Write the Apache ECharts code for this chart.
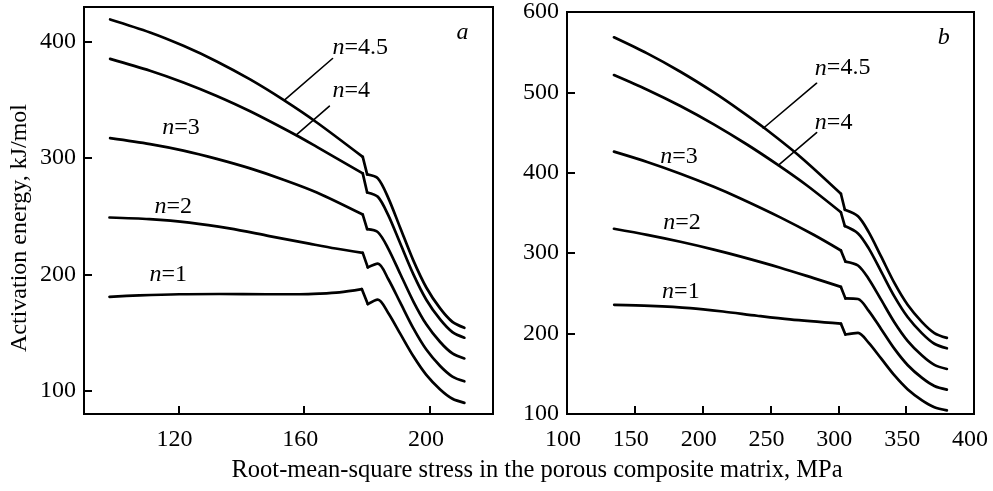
<!DOCTYPE html>
<html>
<head>
<meta charset="utf-8">
<script src="https://cdn.jsdelivr.net/npm/echarts@6/dist/echarts.min.js"></script>
<style>
html, body { margin: 0; padding: 0; background: #fff; }
#chart { width: 993px; height: 491px; }
</style>
</head>
<body>
<div id="chart"></div>
<script>
// panel a: [stress MPa, activation energy kJ/mol]
var a45 = [[98.3,419.3],[111.0,408.1],[121.6,396.6],[132.2,383.2],[142.8,367.7],[153.4,350.1],[164.0,330.7],[178.6,301.1],[180.0,286.0],[183.4,282.6],[186.7,265.9],[190.5,240.2],[194.7,211.9],[198.8,188.8],[203.2,170.8],[207.1,159.2],[210.9,154.1]];
var a4 = [[98.3,385.4],[111.0,375.2],[121.6,365.1],[132.2,353.5],[142.8,340.3],[157.6,319.5],[164.0,309.7],[178.6,286.9],[180.0,270.5],[183.4,266.8],[186.7,251.0],[190.5,226.8],[194.7,200.1],[198.8,178.3],[203.2,161.3],[207.1,150.4],[210.9,145.6]];
var a3 = [[98.3,317.2],[111.0,312.1],[121.6,306.5],[132.2,299.4],[142.8,291.2],[153.4,281.5],[164.0,270.5],[178.6,251.5],[180.0,239.0],[183.4,236.4],[186.7,222.3],[190.5,200.6],[194.7,176.7],[198.8,157.1],[203.2,141.9],[207.1,132.1],[210.9,127.8]];
var a2 = [[98.1,249.0],[110.8,247.6],[123.5,244.6],[136.2,239.6],[148.9,233.0],[161.6,226.5],[170.0,222.3],[178.6,218.6],[180.2,206.1],[183.4,209.3],[186.7,196.1],[190.5,175.9],[194.7,153.6],[198.8,135.4],[203.2,121.3],[207.1,112.2],[210.9,108.1]];
var a1 = [[98.1,180.8],[107.6,182.0],[120.3,183.0],[133.0,183.2],[148.0,183.0],[158.5,183.0],[164.8,183.5],[171.2,184.6],[178.3,187.4],[180.2,174.5],[183.4,178.4],[186.7,166.9],[190.5,149.1],[194.7,129.6],[198.8,113.6],[203.2,101.1],[207.1,93.1],[210.9,89.6]];
// index of the point where each curve steps down
var aKinks = [7, 7, 7, 7, 8];

// panel b
var b45 = [[134.6,568.5],[159.1,548.5],[183.6,525.7],[208.2,500.0],[227.5,477.7],[245.0,456.3],[271.9,420.0],[301.9,373.9],[304.8,354.0],[314.5,345.9],[322.4,326.2],[331.5,296.0],[341.4,262.7],[351.2,235.5],[361.7,214.3],[370.8,200.7],[380.0,194.7]];
var b4 = [[134.6,521.6],[159.1,503.4],[183.6,483.1],[208.2,460.3],[232.7,435.2],[256.0,409.2],[276.9,384.2],[301.9,350.9],[304.8,333.7],[314.5,324.6],[322.4,306.0],[331.5,277.4],[341.4,246.0],[351.2,220.3],[361.7,200.3],[370.8,187.4],[380.0,181.7]];
var b3 = [[134.6,426.3],[159.1,413.5],[183.6,398.9],[208.2,382.6],[227.5,368.4],[257.2,344.6],[281.8,322.9],[301.9,303.4],[305.2,289.6],[314.5,284.7],[322.4,268.0],[331.5,242.2],[341.4,213.9],[351.2,190.7],[361.7,172.7],[370.8,161.1],[380.0,156.0]];
var b2 = [[134.6,330.4],[159.1,322.8],[183.6,314.2],[208.2,304.5],[227.5,296.1],[257.2,282.0],[281.8,269.0],[301.9,258.1],[305.2,243.8],[314.5,243.0],[322.4,228.3],[331.5,205.8],[341.4,181.0],[351.2,160.7],[361.7,144.9],[370.8,134.8],[380.0,130.3]];
var b1 = [[134.8,235.7],[161.3,234.4],[190.7,231.7],[215.0,227.5],[240.1,222.2],[264.3,217.6],[301.9,212.4],[305.2,198.9],[314.5,200.9],[322.4,188.4],[331.5,169.1],[341.4,147.9],[351.2,130.5],[361.7,117.0],[370.8,108.4],[380.0,104.5]];
var bKinks = [7, 7, 7, 7, 6];

// leader lines from labels to curves
var aLead45 = [[169.0,385.7],[153.7,349.9]];
var aLead4 = [[168.0,344.7],[157.4,319.8]];
var bLead45 = [[284.0,511.4],[244.7,455.4]];
var bLead4 = [[284.0,450.1],[255.7,409.2]];

var aTicksX = [120, 160, 200];
var aTicksY = [100, 200, 300, 400];

// label text, x, y (data coords, left edge / middle)
var aLabels = [['{i|n}=4.5',169.0,395.4],['{i|n}=4',169.0,357.9],['{i|n}=3',114.9,325.8],['{i|n}=2',112.4,258.2],['{i|n}=1',110.8,199.4],['{i|a}',208.4,407.5]];
var bLabels = [['{i|n}=4.5',282.7,530.1],['{i|n}=4',282.7,462.7],['{i|n}=3',168.7,419.9],['{i|n}=2',170.9,337.7],['{i|n}=1',170.1,251.9],['{i|b}',373.3,568.1]];

var FONT = '"Liberation Serif", "Times New Roman", serif';

var chart = echarts.init(document.getElementById('chart'));

function xAx(grid, min, max, interval, custom) {
  var ax = {
    type: 'value', gridIndex: grid, min: min, max: max,
    axisLine: { lineStyle: { color: '#000', width: 2 } },
    axisTick: { inside: true, length: 8, lineStyle: { color: '#000', width: 2 } },
    axisLabel: { color: '#000', fontSize: 24, fontFamily: FONT, margin: 14, padding: [0, 8, 0, 0] },
    splitLine: { show: false }
  };
  if (interval) ax.interval = interval;
  if (custom) { ax.axisTick.customValues = custom; ax.axisLabel.customValues = custom; }
  return ax;
}
function yAx(grid, min, max, interval, custom) {
  var ax = {
    type: 'value', gridIndex: grid, min: min, max: max,
    axisLine: { lineStyle: { color: '#000', width: 2 } },
    axisTick: { inside: true, length: 8, lineStyle: { color: '#000', width: 2 } },
    axisLabel: { color: '#000', fontSize: 24, fontFamily: FONT, margin: 8 },
    splitLine: { show: false }
  };
  if (interval) ax.interval = interval;
  if (custom) { ax.axisTick.customValues = custom; ax.axisLabel.customValues = custom; }
  return ax;
}

function part(data, idx, smooth, width) {
  return {
    type: 'line', data: data, xAxisIndex: idx, yAxisIndex: idx,
    showSymbol: false, smooth: smooth,
    lineStyle: { color: '#000', width: width, cap: 'round', join: 'round' },
    silent: true, animation: false
  };
}
// smooth part before the step, straight step, smooth steep part after it
function curve(data, k, idx) {
  return [
    part(data.slice(0, k + 1), idx, 0.3, 2.7),
    part(data.slice(k, k + 2), idx, false, 2.7),
    part(data.slice(k + 1), idx, 0.3, 2.7)
  ];
}

var series = [];
[a45, a4, a3, a2, a1].forEach(function (d, i) { series = series.concat(curve(d, aKinks[i], 0)); });
[b45, b4, b3, b2, b1].forEach(function (d, i) { series = series.concat(curve(d, bKinks[i], 1)); });
[aLead45, aLead4].forEach(function (d) { series.push(part(d, 0, false, 1.6)); });
[bLead45, bLead4].forEach(function (d) { series.push(part(d, 1, false, 1.6)); });

var option = {
  backgroundColor: '#fff',
  animation: false,
  grid: [
    { left: 84, right: 500, top: 7, bottom: 77, show: true, borderColor: '#000', borderWidth: 2 },
    { left: 567, right: 19, top: 6, bottom: 77, show: true, borderColor: '#000', borderWidth: 2 }
  ],
  xAxis: [xAx(0, 90, 220, null, aTicksX), xAx(1, 100, 400, 50)],
  yAxis: [yAx(0, 80, 430, null, aTicksY), yAx(1, 100, 600, 100)],
  series: series
};
chart.setOption(option);

var graphics = [
  { type: 'text', x: 20, y: 228, rotation: Math.PI / 2,
    style: { text: 'Activation energy, kJ/mol', fill: '#000', font: '24px ' + FONT, align: 'center', verticalAlign: 'middle' } },
  { type: 'text', x: 537, y: 471,
    style: { text: 'Root-mean-square stress in the porous composite matrix, MPa', fill: '#000', font: '24.5px ' + FONT, align: 'center', verticalAlign: 'middle' } }
];
function addLabels(list, grid) {
  list.forEach(function (l) {
    var p = chart.convertToPixel({ gridIndex: grid }, [l[1], l[2]]);
    graphics.push({
      type: 'text', x: p[0], y: p[1],
      style: {
        text: l[0], fill: '#000', fontSize: 24, fontFamily: FONT, align: 'left', verticalAlign: 'middle',
        rich: { i: { fontStyle: 'italic', fontSize: 24, fontFamily: FONT, fill: '#000' } }
      }
    });
  });
}
addLabels(aLabels, 0);
addLabels(bLabels, 1);
chart.setOption({ graphic: graphics });
</script>
</body>
</html>
